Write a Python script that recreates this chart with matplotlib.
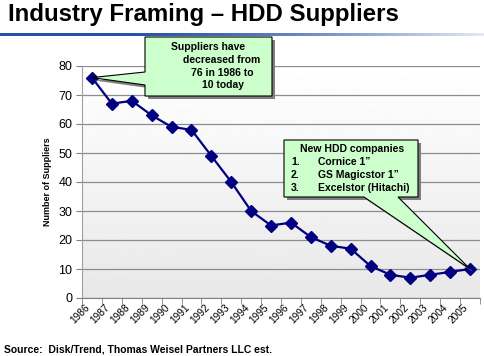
import numpy as np
import matplotlib.pyplot as plt
from matplotlib.patches import Polygon

years = ['1986', '1987', '1988', '1989', '1990', '1991', '1992', '1993', '1994', '1995',
         '1996', '1997', '1998', '1999', '2000', '2001', '2002', '2003', '2004', '2005']
suppliers = [76, 67, 68, 63, 59, 58, 49, 40, 30, 25, 26, 21, 18, 17, 11, 8, 7, 8, 9, 10]

plt.rcParams['font.family'] = ['Liberation Sans', 'DejaVu Sans']

W, H = 485, 356
fig = plt.figure(figsize=(W / 100, H / 100), dpi=100)


def fx(px):
    return px / W


def fy(py):
    return 1 - py / H


# title + blue rule
fig.text(fx(8), fy(15), 'Industry Framing \u2013 HDD Suppliers', fontsize=17.3, fontweight='bold',
         va='center', ha='left')
rule = fig.add_axes([0, fy(36), 1, 3 / H])
grad = np.clip(np.linspace(-0.3, 1, 256), 0, 1) ** 1.5
rgba = np.zeros((1, 256, 4))
rgba[0, :, 0] = 0.15 + 0.75 * grad
rgba[0, :, 1] = 0.32 + 0.60 * grad
rgba[0, :, 2] = 0.65 + 0.30 * grad
rgba[0, :, 3] = 1.0
rule.imshow(rgba, aspect='auto', extent=[0, 1, 0, 1])
rule.axis('off')

# main chart
ax = fig.add_axes([fx(82), fy(298), fx(480) - fx(82), (298 - 66) / H])
x = np.arange(len(years))
ax.set_xlim(-0.5, len(years) - 0.5)
ax.set_ylim(0, 80)

bg = np.linspace(1.0, 0.91, 100).reshape(-1, 1)
ax.imshow(bg, cmap='gray', vmin=0, vmax=1, aspect='auto',
          extent=[-0.5, len(years) - 0.5, 0, 80], zorder=0)

ax.set_yticks(range(0, 90, 10))
ax.yaxis.grid(True, color='#8c8c8c', linewidth=0.9)
ax.set_axisbelow(True)
ax.plot(x, suppliers, color='#000080', linewidth=1.6, marker='D', markersize=6.5, zorder=3)

ax.set_xticks(x)
ax.set_xticklabels(years, rotation=45, ha='right', va='top', fontsize=7.3)
ax.set_xticks(np.arange(-0.5, len(years)), minor=True)
ax.tick_params(axis='x', which='major', length=0, pad=3)
ax.tick_params(axis='x', which='minor', length=4, color='#808080')
ax.tick_params(axis='y', length=4, color='#808080', labelsize=9, pad=3)
for s in ['top', 'right']:
    ax.spines[s].set_visible(False)
ax.spines['left'].set_color('#a0a0a0')
ax.spines['bottom'].set_color('#808080')

fig.text(fx(48), fy(182), 'Number of Suppliers', rotation=90, fontsize=6.5, fontweight='bold',
         ha='center', va='center')
fig.text(fx(4), fy(349), 'Source:  Disk/Trend, Thomas Weisel Partners LLC est.', fontsize=7.5,
         fontweight='bold', ha='left', va='center')


# callouts
def tip_px(i):
    dx, dy = ax.transData.transform((x[i], suppliers[i]))
    return dx, H - dy


def callout(pts):
    shadow = [(fx(px + 3), fy(py + 3)) for px, py in pts]
    fig.patches.append(Polygon(shadow, closed=True, transform=fig.transFigure,
                               facecolor='#7f7f7f', edgecolor='none', zorder=4))
    fig.patches.append(Polygon([(fx(px), fy(py)) for px, py in pts], closed=True,
                               transform=fig.transFigure, facecolor='#ccffcc',
                               edgecolor='black', linewidth=0.8, zorder=5))


t1 = tip_px(0)
callout([(145, 37), (272, 37), (272, 96), (145, 96), (145, 85), t1, (145, 72)])
t2 = tip_px(len(years) - 1)
callout([(284, 140), (418, 140), (418, 197), (398, 197), t2, (364, 197), (284, 197)])

kw = dict(fontsize=7.5, fontweight='bold', va='center', zorder=6)
fig.text(fx(208), fy(47), 'Suppliers have', ha='center', **kw)
fig.text(fx(222), fy(60), 'decreased from', ha='center', **kw)
fig.text(fx(222), fy(73), '76 in 1986 to', ha='center', **kw)
fig.text(fx(223), fy(85), '10 today', ha='center', **kw)

fig.text(fx(352), fy(149), 'New HDD companies', ha='center', **kw)
items = ['Cornice 1\u201d', 'GS Magicstor 1\u201d', 'Excelstor (Hitachi)']
for k, item in enumerate(items):
    fig.text(fx(291), fy(162 + 13 * k), f'{k + 1}.', ha='left', **kw)
    fig.text(fx(318), fy(162 + 13 * k), item, ha='left', **kw)

fig.savefig('out.png', dpi=100)
